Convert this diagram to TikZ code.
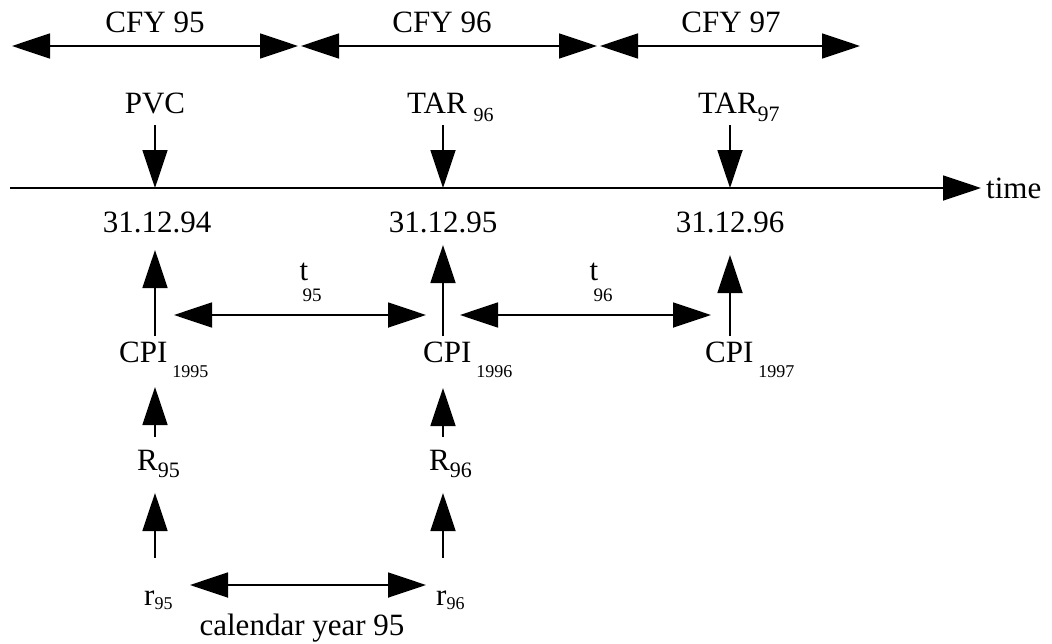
\documentclass[tikz,border=0pt]{standalone}
\usepackage{fontspec}
\setmainfont{Liberation Serif}
\usetikzlibrary{arrows.meta}
\newcommand\lowsub[3]{\raisebox{-#1pt}{\fontsize{#2}{#2}\selectfont #3}}
\begin{document}
\begin{tikzpicture}[x=1pt,y=-1pt,
  lbl/.style={inner sep=0pt, anchor=base, font=\fontsize{31}{32}\selectfont},
  lblw/.style={inner sep=0pt, anchor=base west, font=\fontsize{31}{32}\selectfont},
  small/.style={inner sep=0pt, anchor=base, font=\fontsize{19}{19}\selectfont},
  arr/.style={line width=1.8pt, -{Triangle[length=38pt,width=25pt]}},
  darr/.style={line width=1.8pt, {Triangle[length=38pt,width=25pt]}-{Triangle[length=38pt,width=25pt]}}]
\useasboundingbox (0,0) rectangle (1052,643);

% top fiscal-year arrows
\node[lbl] (cfy95) at (155,32) {CFY 95};
\node[lbl] (cfy96) at (442,32) {CFY 96};
\node[lbl] (cfy97) at (731,32) {CFY 97};
\coordinate (a0) at (12,46);  \coordinate (a1) at (298,46);
\coordinate (b0) at (301,46); \coordinate (b1) at (597,46);
\coordinate (c0) at (600,46); \coordinate (c1) at (860,46);
\draw[darr] (a0) -- (a1);
\draw[darr] (b0) -- (b1);
\draw[darr] (c0) -- (c1);

% top labels
\node[lbl] (pvc) at (155,113) {PVC};
\node[lblw] (tar96) at (407,113) {TAR\hspace{7pt}\lowsub{8}{20}{96}};
\node[lblw] (tar97) at (698,113) {TAR\lowsub{8}{22}{97}};

% time line
\coordinate (t0) at (10,188);
\coordinate (t1) at (981,188);
\node[lblw] (time) at (986,198) {time};
\draw[arr] (t0) -- (t1);

\coordinate (p1) at (155,125); \coordinate (q1) at (155,188);
\coordinate (p2) at (443,125); \coordinate (q2) at (443,188);
\coordinate (p3) at (730,125); \coordinate (q3) at (730,188);
\draw[arr] (p1) -- (q1);
\draw[arr] (p2) -- (q2);
\draw[arr] (p3) -- (q3);

% dates
\node[lbl] (d94) at (157,232) {31.12.94};
\node[lbl] (d95) at (443,232) {31.12.95};
\node[lbl] (d96) at (730,232) {31.12.96};

% CPI up arrows
\coordinate (u1) at (155,336); \coordinate (w1) at (155,250);
\coordinate (u2) at (443,336); \coordinate (w2) at (443,245);
\coordinate (u3) at (730,336); \coordinate (w3) at (730,255);
\draw[arr] (u1) -- (w1);
\draw[arr] (u2) -- (w2);
\draw[arr] (u3) -- (w3);

% t labels and arrows
\node[lbl] (t95) at (304,280) {t};
\node[small] (t95s) at (312,301) {95};
\node[lbl] (t96) at (594,280) {t};
\node[small] (t96s) at (603,301) {96};
\coordinate (h1) at (174,315); \coordinate (h2) at (426,315);
\coordinate (h3) at (460,315); \coordinate (h4) at (711,315);
\draw[darr] (h1) -- (h2);
\draw[darr] (h3) -- (h4);

% CPI labels
\node[lblw] (cpi95) at (119,362) {CPI\hspace{5pt}\lowsub{15}{18}{1995}};
\node[lblw] (cpi96) at (423,362) {CPI\hspace{5pt}\lowsub{15}{18}{1996}};
\node[lblw] (cpi97) at (705,362) {CPI\hspace{5pt}\lowsub{15}{18}{1997}};

% R to CPI
\coordinate (ra1) at (155,437); \coordinate (rb1) at (155,387);
\coordinate (ra2) at (443,437); \coordinate (rb2) at (443,388);
\draw[arr] (ra1) -- (rb1);
\draw[arr] (ra2) -- (rb2);

\node[lblw] (R95) at (137,470) {R\lowsub{7}{22}{95}};
\node[lblw] (R96) at (429,470) {R\lowsub{7}{22}{96}};

% r to R
\coordinate (sa1) at (155,558); \coordinate (sb1) at (155,493);
\coordinate (sa2) at (443,558); \coordinate (sb2) at (443,493);
\draw[arr] (sa1) -- (sb1);
\draw[arr] (sa2) -- (sb2);

\node[lblw] (r95) at (144,605) {r\lowsub{4}{18}{95}};
\node[lblw] (r96) at (436,605) {r\lowsub{4}{18}{96}};
\coordinate (k1) at (190,585); \coordinate (k2) at (426,585);
\draw[darr] (k1) -- (k2);
\node[lbl] (cal) at (302,635) {calendar year 95};
\end{tikzpicture}
\end{document}
